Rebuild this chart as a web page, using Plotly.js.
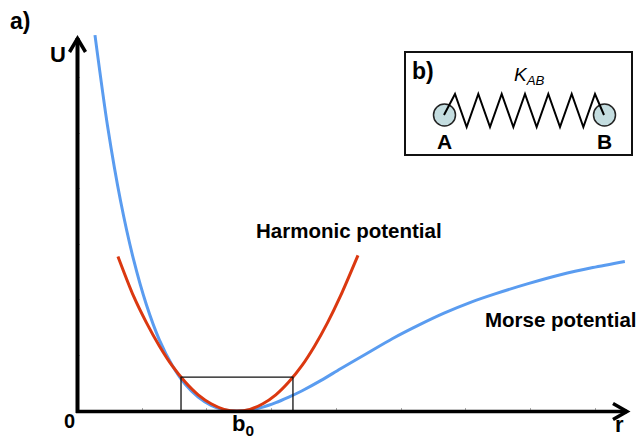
<!DOCTYPE html>
<html>
<head>
<meta charset="utf-8">
<script src="https://cdn.plot.ly/plotly-3.0.1.min.js"></script>
<style>html,body{margin:0;padding:0;background:#fff;}#chart{width:639px;height:439px;}</style>
</head>
<body>
<div id="chart"></div>
<script>
// Morse potential (blue) (r in tick units, U in tick units)
const morseR = [0.27, 0.465, 0.665, 0.865, 1.065, 1.265, 1.465, 1.665, 1.865, 2.065, 2.265, 2.465, 2.665, 2.865, 3.065, 3.265, 3.465, 3.765, 4.065, 4.465, 4.865, 5.265, 5.665, 6.065, 6.465, 6.965, 7.465, 7.965, 8.46];
const morseU = [6.76, 5.12, 3.78, 2.73, 1.91, 1.28, 0.82, 0.48, 0.25, 0.10, 0.02, 0.0, 0.02, 0.07, 0.15, 0.25, 0.36, 0.55, 0.76, 1.03, 1.30, 1.54, 1.76, 1.95, 2.11, 2.29, 2.45, 2.58, 2.69];
// Harmonic potential (red)
const harmR = [0.625, 0.865, 1.065, 1.265, 1.465, 1.665, 1.865, 2.065, 2.265, 2.465, 2.665, 2.865, 3.065, 3.265, 3.465, 3.665, 3.865, 4.065, 4.335];
const harmU = [2.78, 2.07, 1.59, 1.17, 0.81, 0.52, 0.29, 0.13, 0.03, 0.0, 0.03, 0.13, 0.29, 0.52, 0.81, 1.17, 1.59, 2.07, 2.80];
// Box around the minimum
const boxR = [1.60, 3.33];
const boxU = [0, 0.61];
// Labels
const curveLabels = ["Harmonic potential", "Morse potential"];
const axisLabels = ["U", "r", "0", "b<sub>0</sub>"];
const panelLabels = ["a)", "b)"];
const atomLabels = ["A", "B"];
const springLabel = "K<sub>AB</sub>";

const W = 639, H = 439;
const plotL = 77.5, plotR = 631.5, plotB = 411, plotT = 30;
const FONT = "Liberation Sans, Arial, sans-serif";

const traces = [
  {x: morseR, y: morseU, mode: "lines", line: {color: "#5a9cf0", width: 3, shape: "spline", smoothing: 0.8}, xaxis: "x", yaxis: "y", hoverinfo: "skip"},
  {x: harmR, y: harmU, mode: "lines", line: {color: "#db3810", width: 3, shape: "spline", smoothing: 0.8}, xaxis: "x", yaxis: "y", hoverinfo: "skip"},
  {x: [], y: [], xaxis: "x2", yaxis: "y2", showlegend: false}
];

// pixel overlay helpers
function ann(text, x, y, size, opts) {
  return Object.assign({text: text, x: x, y: y, xref: "x2", yref: "y2", showarrow: false,
    xanchor: "center", yanchor: "middle", font: {family: FONT, size: size, color: "#000", weight: "bold"}}, opts || {});
}

const peaksX = [455, 478.3, 501.7, 525, 548.3, 571.7, 595];
let spring = "M444,115";
for (let i = 0; i < peaksX.length; i++) {
  spring += " L" + peaksX[i] + ",94";
  if (i < peaksX.length - 1) spring += " L" + ((peaksX[i] + peaksX[i + 1]) / 2) + ",127";
}
spring += " L604,115";

const shapes = [
  // box around minimum (data coords)
  {type: "rect", xref: "x", yref: "y", x0: boxR[0], x1: boxR[1], y0: boxU[0], y1: boxU[1], line: {color: "#111", width: 1.3}, layer: "above"},
  // axes lines (pixel coords)
  {type: "line", xref: "x2", yref: "y2", x0: 77.5, y0: 413, x1: 77.5, y1: 38, line: {color: "#000", width: 4}, layer: "above"},
  {type: "line", xref: "x2", yref: "y2", x0: 76, y0: 411.5, x1: 627, y1: 411.5, line: {color: "#000", width: 3.5}, layer: "above"},
  {type: "path", xref: "x2", yref: "y2", path: "M69.5,52 L77.5,38.5 L85.5,52", line: {color: "#000", width: 3.5}, layer: "above"},
  {type: "path", xref: "x2", yref: "y2", path: "M613,403.5 L627,411.5 L613,419.5", line: {color: "#000", width: 3.5}, layer: "above"},
  // inset
  {type: "rect", xref: "x2", yref: "y2", x0: 405, x1: 632, y0: 52, y1: 155, line: {color: "#111", width: 2}, fillcolor: "#fff", layer: "above"},
  {type: "circle", xref: "x2", yref: "y2", x0: 433.5, x1: 455.5, y0: 104, y1: 126, line: {color: "#222", width: 1.5}, fillcolor: "#c4dde0", layer: "above"},
  {type: "circle", xref: "x2", yref: "y2", x0: 593.5, x1: 615.5, y0: 104, y1: 126, line: {color: "#222", width: 1.5}, fillcolor: "#c4dde0", layer: "above"},
  {type: "path", xref: "x2", yref: "y2", path: spring, line: {color: "#000", width: 2}, layer: "above"}
];

const annotations = [
  ann(panelLabels[0], 20, 21, 23),
  ann(axisLabels[0], 57.5, 54, 22),
  ann(axisLabels[2], 69.5, 421, 20),
  ann(axisLabels[3], 243, 425, 22),
  ann(axisLabels[1], 619, 439, 22, {yanchor: "bottom"}),
  ann(curveLabels[0], 348.5, 230, 20.5),
  ann(curveLabels[1], 561, 319, 20.5),
  ann(panelLabels[1], 423, 71, 23),
  ann(atomLabels[0], 444.5, 141, 21),
  ann(atomLabels[1], 604.5, 141, 21),
  ann(springLabel, 529, 76, 19, {font: {family: FONT, size: 19, color: "#000", style: "italic"}})
];

const layout = {
  width: W, height: H,
  margin: {l: 0, r: 0, t: 0, b: 0},
  paper_bgcolor: "#fff", plot_bgcolor: "rgba(0,0,0,0)",
  showlegend: false,
  xaxis: {domain: [plotL / W, plotR / W], range: [0, (plotR - plotL) / 64.7], anchor: "y",
    showgrid: false, zeroline: false, showline: false, ticks: "inside", ticklen: 3, tickwidth: 1, tickcolor: "#aaa",
    dtick: 1, tick0: 0, showticklabels: false},
  yaxis: {domain: [(H - plotB) / H, (H - plotT) / H], range: [0, (plotB - plotT) / 55.6], anchor: "x",
    showgrid: false, zeroline: false, showline: false, ticks: "inside", ticklen: 2, tickwidth: 1, tickcolor: "#bbb",
    dtick: 1, tick0: 0, showticklabels: false},
  xaxis2: {domain: [0, 1], range: [0, W], anchor: "y2", visible: false, fixedrange: true},
  yaxis2: {domain: [0, 1], range: [H, 0], anchor: "x2", visible: false, fixedrange: true},
  shapes: shapes,
  annotations: annotations
};

Plotly.newPlot("chart", traces, layout, {staticPlot: true, displayModeBar: false});
</script>
</body>
</html>
